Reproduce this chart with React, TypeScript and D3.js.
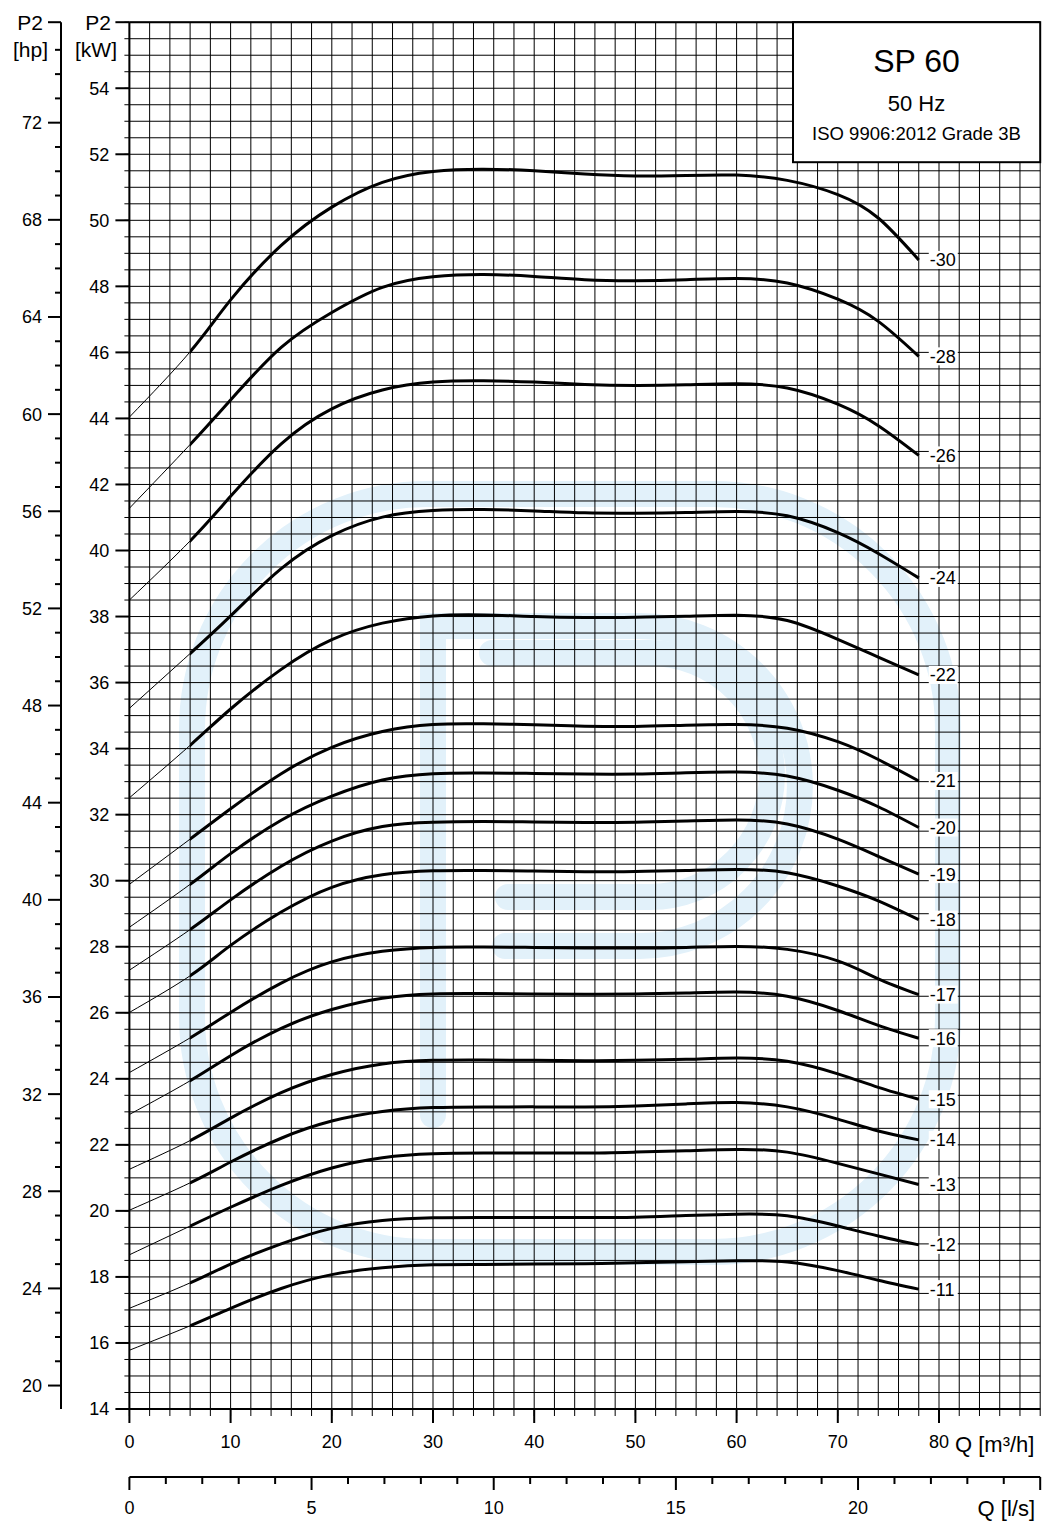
import React from 'react';
import * as d3 from 'd3';

// Flow points (m³/h) shared by every curve
const Q_POINTS = [0, 6, 10, 15, 20, 25, 30, 35, 40, 45, 50, 55, 60, 65, 70, 74, 78];

// P2 [kW] per pump stage count
const P2_30 = [44.04, 46.02, 47.59, 49.24, 50.40, 51.15, 51.48, 51.55, 51.5, 51.4, 51.34, 51.36, 51.37, 51.21, 50.78, 50.07, 48.8];
const P2_28 = [41.28, 43.21, 44.56, 46.15, 47.21, 47.97, 48.29, 48.36, 48.3, 48.2, 48.17, 48.2, 48.24, 48.1, 47.61, 46.94, 45.88];
const P2_26 = [38.5, 40.29, 41.64, 43.23, 44.29, 44.86, 45.10, 45.14, 45.1, 45.03, 45.0, 45.02, 45.05, 44.92, 44.43, 43.78, 42.88];
const P2_24 = [35.22, 36.88, 38.02, 39.45, 40.45, 41.01, 41.21, 41.24, 41.2, 41.14, 41.13, 41.15, 41.18, 41.05, 40.54, 39.91, 39.17];
const P2_22 = [32.51, 34.1, 35.2, 36.4, 37.3, 37.8, 38.02, 38.05, 38.0, 37.97, 37.98, 38.01, 38.04, 37.88, 37.31, 36.77, 36.23];
const P2_21 = [29.89, 31.26, 32.18, 33.24, 34.04, 34.52, 34.73, 34.75, 34.72, 34.68, 34.67, 34.71, 34.73, 34.62, 34.21, 33.67, 33.02];
const P2_20 = [28.59, 29.89, 30.82, 31.83, 32.56, 33.05, 33.24, 33.26, 33.25, 33.23, 33.23, 33.27, 33.29, 33.17, 32.74, 32.24, 31.61];
const P2_19 = [27.29, 28.52, 29.42, 30.44, 31.2, 31.64, 31.77, 31.79, 31.78, 31.76, 31.77, 31.81, 31.84, 31.72, 31.26, 30.74, 30.2];
const P2_18 = [26.01, 27.12, 28.04, 29.05, 29.8, 30.18, 30.3, 30.31, 30.29, 30.27, 30.28, 30.31, 30.34, 30.24, 29.84, 29.39, 28.82];
const P2_17 = [24.19, 25.24, 26.01, 26.9, 27.54, 27.86, 27.98, 27.99, 27.98, 27.96, 27.96, 27.98, 28.01, 27.92, 27.57, 27.03, 26.55];
const P2_16 = [22.92, 23.94, 24.7, 25.53, 26.1, 26.44, 26.57, 26.58, 26.57, 26.56, 26.57, 26.6, 26.63, 26.5, 26.07, 25.62, 25.23];
const P2_15 = [21.26, 22.13, 22.81, 23.58, 24.13, 24.45, 24.56, 24.57, 24.56, 24.55, 24.56, 24.59, 24.63, 24.53, 24.15, 23.74, 23.38];
const P2_14 = [20.02, 20.85, 21.48, 22.2, 22.72, 23.01, 23.13, 23.15, 23.15, 23.15, 23.18, 23.24, 23.28, 23.15, 22.78, 22.42, 22.15];
const P2_13 = [18.67, 19.54, 20.11, 20.77, 21.3, 21.61, 21.73, 21.75, 21.75, 21.75, 21.78, 21.82, 21.86, 21.78, 21.44, 21.12, 20.8];
const P2_12 = [17.05, 17.82, 18.39, 19.0, 19.47, 19.71, 19.79, 19.8, 19.8, 19.8, 19.81, 19.86, 19.9, 19.85, 19.54, 19.24, 18.97];
const P2_11 = [15.78, 16.52, 17.05, 17.65, 18.07, 18.28, 18.37, 18.38, 18.39, 18.4, 18.43, 18.46, 18.49, 18.45, 18.19, 17.9, 17.63];

const CURVE_LABELS = ['-30', '-28', '-26', '-24', '-22', '-21', '-20', '-19', '-18', '-17', '-16', '-15', '-14', '-13', '-12', '-11'];
const CURVE_VALUES = [P2_30, P2_28, P2_26, P2_24, P2_22, P2_21, P2_20, P2_19, P2_18, P2_17, P2_16, P2_15, P2_14, P2_13, P2_12, P2_11];

const KW_TICKS = [14, 16, 18, 20, 22, 24, 26, 28, 30, 32, 34, 36, 38, 40, 42, 44, 46, 48, 50, 52, 54];
const HP_MAJOR = [20, 24, 28, 32, 36, 40, 44, 48, 52, 56, 60, 64, 68, 72];
const Q_TICKS = [0, 10, 20, 30, 40, 50, 60, 70, 80];
const LS_TICKS = [0, 5, 10, 15, 20];

const FONT = '"Liberation Sans", Arial, Helvetica, sans-serif';
const WM = '#e2f1fa';

export default function App() {
  const W = 1042, H = 1524;
  const x = d3.scaleLinear().domain([0, 90]).range([129.4, 1040.2]);
  const y = d3.scaleLinear().domain([14, 56]).range([1409, 22.2]);
  const KW_TO_HP = 1.3596;
  const yHp = d3.scaleLinear().domain([14 * KW_TO_HP, 56 * KW_TO_HP]).range([1409, 22.2]);
  const xLs = d3.scaleLinear().domain([0, 90 / 3.6]).range([129.4, 1040.2]);
  const top = y(56), bottom = y(14), left = x(0), right = x(90);

  const line = d3.line<[number, number]>().x(d => x(d[0])).y(d => y(d[1])).curve(d3.curveNatural);

  const vGrid = d3.range(0, 91, 2);
  const hGrid = d3.range(14, 56.01, 0.5);
  const hpMinor = d3.range(20, 76);
  const lsMinor = d3.range(0, 26);

  return (
    <div style={{ position: 'absolute', left: 0, top: 0 }}>
      <svg width={W} height={H} viewBox={`0 0 ${W} ${H}`} style={{ display: 'block', background: '#fff' }} fontFamily={FONT}>
        <defs>
          <clipPath id="thick">
            <rect x={x(6)} y={0} width={x(80) - x(6)} height={H} />
          </clipPath>
        </defs>
        <rect x={0} y={0} width={W} height={H} fill="#fff" />
        {/* watermark */}
        <g fill="none" stroke={WM} strokeWidth={26} strokeLinecap="round">
          <rect x={192} y={494} width={756} height={758} rx={235} ry={235} />
          <path d="M 433 1115 L 433 626 L 640 626" strokeLinecap="butt" />
          <path d="M 433 1115 L 433 1100" />
          <path d="M 640 626 A 160 160 0 0 1 640 946 L 505 946" />
          <path d="M 492 653 L 650 653 A 122 122 0 0 1 650 897 L 508 897" />
        </g>
        {/* grid */}
        <g stroke="#000" strokeWidth={1}>
          {vGrid.map(q => (
            <line key={'v' + q} x1={x(q)} x2={x(q)} y1={top} y2={bottom + 7} />
          ))}
          {hGrid.map(k => (
            <line key={'h' + k} x1={left - 5} x2={right} y1={y(k)} y2={y(k)} />
          ))}
        </g>
        {/* axes frame */}
        <g stroke="#000" strokeWidth={2} fill="none">
          <line x1={left} x2={left} y1={top} y2={bottom} />
          <line x1={left} x2={right} y1={bottom} y2={bottom} />
          <line x1={left} x2={right} y1={top} y2={top} />
          {Q_TICKS.map(q => (
            <line key={'qt' + q} x1={x(q)} x2={x(q)} y1={bottom} y2={bottom + 14} />
          ))}
          {KW_TICKS.map(k => (
            <line key={'kt' + k} x1={left - 14} x2={left} y1={y(k)} y2={y(k)} />
          ))}
          <line x1={left - 14} x2={left} y1={top} y2={top} />
        </g>
        {/* kW labels */}
        <g fontSize={18} textAnchor="end" fill="#000">
          {KW_TICKS.map(k => (
            <text key={'kl' + k} x={left - 20} y={y(k)} dy="0.36em">{k}</text>
          ))}
        </g>
        <text x={111} y={30} fontSize={21} textAnchor="end">P2</text>
        <text x={117} y={57} fontSize={21} textAnchor="end">[kW]</text>
        {/* hp axis */}
        <g stroke="#000" strokeWidth={2}>
          <line x1={61} x2={61} y1={top} y2={bottom} />
          <line x1={48} x2={61} y1={top} y2={top} />
          {hpMinor.map(h => (
            <line key={'hm' + h} x1={HP_MAJOR.includes(h) ? 48 : 55} x2={61} y1={yHp(h)} y2={yHp(h)} />
          ))}
        </g>
        <g fontSize={18} textAnchor="end">
          {HP_MAJOR.map(h => (
            <text key={'hl' + h} x={42} y={yHp(h)} dy="0.36em">{h}</text>
          ))}
        </g>
        <text x={43} y={30} fontSize={21} textAnchor="end">P2</text>
        <text x={48} y={57} fontSize={21} textAnchor="end">[hp]</text>
        {/* Q m3/h labels */}
        <g fontSize={18} textAnchor="middle">
          {Q_TICKS.map(q => (
            <text key={'ql' + q} x={x(q)} y={1448}>{q}</text>
          ))}
        </g>
        <text x={955} y={1452} fontSize={22}>Q [m³/h]</text>
        {/* l/s axis */}
        <g stroke="#000" strokeWidth={2}>
          <line x1={left} x2={right} y1={1477} y2={1477} />
          {lsMinor.map(s => (
            <line key={'ls' + s} x1={xLs(s)} x2={xLs(s)} y1={1477} y2={LS_TICKS.includes(s) || s === 25 ? 1490 : 1484} />
          ))}
        </g>
        <g fontSize={18} textAnchor="middle">
          {LS_TICKS.map(s => (
            <text key={'lsl' + s} x={xLs(s)} y={1514}>{s}</text>
          ))}
        </g>
        <text x={1035} y={1516} fontSize={22} textAnchor="end">Q [l/s]</text>
        {/* curves */}
        <g fill="none" stroke="#000">
          {CURVE_VALUES.map((vals, i) => {
            const pts = Q_POINTS.map((q, j) => [q, vals[j]] as [number, number]);
            const d = line(pts) || '';
            return (
              <g key={'c' + i}>
                <path d={d} strokeWidth={1} />
                <path d={d} strokeWidth={3} clipPath="url(#thick)" />
              </g>
            );
          })}
        </g>
        {/* curve labels */}
        {CURVE_VALUES.map((vals, i) => {
          const q = Q_POINTS[Q_POINTS.length - 1];
          const v = vals[vals.length - 1];
          return (
            <g key={'lab' + i}>
              <rect x={x(q) + 10} y={y(v) - 9} width={29} height={18} fill="#fff" />
              <text x={x(q) + 11} y={y(v)} dy="0.36em" fontSize={18}>{CURVE_LABELS[i]}</text>
            </g>
          );
        })}
        {/* legend box */}
        <rect x={793} y={top} width={right - 793} height={140} fill="#fff" stroke="#000" strokeWidth={2} />
        <text x={916.5} y={72} fontSize={32} textAnchor="middle">SP 60</text>
        <text x={916.5} y={111} fontSize={22} textAnchor="middle">50 Hz</text>
        <text x={916.5} y={140} fontSize={18.5} textAnchor="middle">ISO 9906:2012 Grade 3B</text>
      </svg>
    </div>
  );
}
